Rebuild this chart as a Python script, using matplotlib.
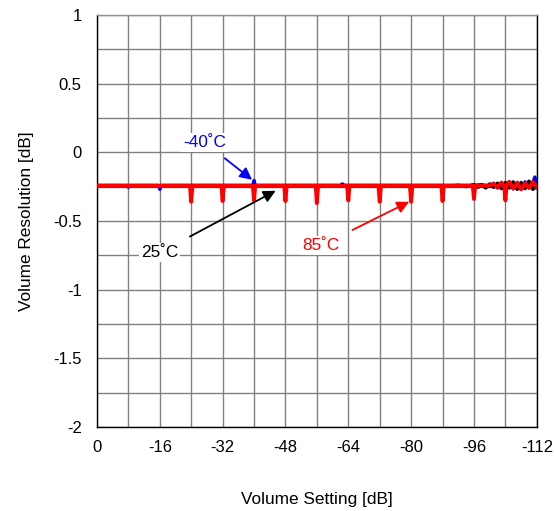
import matplotlib
matplotlib.use("Agg")
import matplotlib.pyplot as plt
import numpy as np

plt.rcParams['font.family'] = ['Liberation Sans', 'DejaVu Sans']

# ---- data ----
# baseline segments plus glitch points; noisy tail at high attenuation
red_x = [0, -23.7, -24, -24.3, -31.7, -32, -32.3, -39.7, -40, -40.3, -47.7, -48, -48.3,
         -55.7, -56, -56.3, -63.7, -64, -64.3, -71.7, -72, -72.3, -79.7, -80, -80.3,
         -87.7, -88, -88.3, -95.7, -96, -96.3, -100, -101, -102, -103, -103.7, -104,
         -104.3, -105, -106, -107, -108, -109, -110, -111, -112]
red_y = [-0.245, -0.245, -0.36, -0.245, -0.245, -0.355, -0.245, -0.245, -0.35, -0.245,
         -0.245, -0.355, -0.245, -0.245, -0.37, -0.245, -0.245, -0.35, -0.245, -0.245,
         -0.36, -0.245, -0.245, -0.36, -0.245, -0.245, -0.355, -0.245, -0.245, -0.34,
         -0.245, -0.24, -0.23, -0.255, -0.22, -0.25, -0.35, -0.24, -0.215, -0.265,
         -0.22, -0.27, -0.225, -0.26, -0.215, -0.255]

blue_x = [0, -7.7, -8, -8.3, -15.7, -16, -16.3, -39.7, -40, -40.3, -62, -62.5, -63,
          -96, -98, -100, -101, -102, -103, -104, -105, -106, -107, -108, -109,
          -110, -111, -111.5, -112]
blue_y = [-0.24, -0.24, -0.255, -0.24, -0.24, -0.27, -0.24, -0.24, -0.205, -0.24,
          -0.24, -0.23, -0.24, -0.24, -0.235, -0.25, -0.225, -0.26, -0.23, -0.255,
          -0.215, -0.265, -0.225, -0.27, -0.215, -0.26, -0.22, -0.18, -0.26]

black_x = [0, -90, -92, -94, -96, -97, -98, -99, -100, -101, -102, -103, -104, -105,
           -106, -107, -108, -109, -110, -111, -112]
black_y = [-0.245, -0.245, -0.24, -0.25, -0.235, -0.255, -0.24, -0.26, -0.23, -0.255,
           -0.225, -0.265, -0.22, -0.26, -0.215, -0.27, -0.22, -0.265, -0.21, -0.27,
           -0.23]

x_ticks = [0, -16, -32, -48, -64, -80, -96, -112]
y_ticks = [-2, -1.5, -1, -0.5, 0, 0.5, 1]
y_ticklabels = ['-2', '-1.5', '-1', '-0.5', '0', '0.5', '1']

# ---- figure ----
fig = plt.figure(figsize=(5.54, 5.11), dpi=100)
ax = fig.add_axes([0.175, 0.164, 0.794, 0.807])

ax.plot(black_x, black_y, color='black', lw=2.4, zorder=3)
ax.plot(blue_x, blue_y, color='#0000ff', lw=2.4, zorder=4)
ax.plot(red_x, red_y, color='#ff0000', lw=2.8, zorder=5)

ax.set_xlim(0, -112)
ax.set_ylim(-2, 1)
ax.set_xticks(x_ticks)
ax.set_xticklabels([str(v) for v in x_ticks])
ax.set_yticks(y_ticks)
ax.set_yticklabels(y_ticklabels)
ax.set_xticks(np.arange(0, -113, -8), minor=True)
ax.set_yticks(np.arange(-2, 1.01, 0.25), minor=True)
ax.grid(True, which='both', color='#808080', lw=1.0, zorder=1)
ax.tick_params(axis='x', which='both', length=0, labelsize=12, pad=9)
ax.tick_params(axis='y', which='both', length=0, labelsize=12, pad=11)
for s in ax.spines.values():
    s.set_color('black')
    s.set_linewidth(1.0)
ax.spines['top'].set_color('#909090')

ax.set_xlabel('Volume Setting [dB]', fontsize=12.4, labelpad=27)
ax.set_ylabel('Volume Resolution [dB]', fontsize=12.4, labelpad=14)

box = dict(facecolor='white', edgecolor='none', pad=1.5)
arrow_kw = dict(arrowstyle='-|>', lw=1.3, mutation_scale=18)
ax.annotate('-40˚C', xy=(-39.5, -0.2), xytext=(-27.5, 0.07), color='#0000ff',
            fontsize=12.4, ha='center', va='center', bbox=box,
            arrowprops=dict(color='#0000ff', shrinkA=7, shrinkB=0, **arrow_kw), zorder=6)
ax.annotate('25˚C', xy=(-45.5, -0.28), xytext=(-16, -0.73), color='black',
            fontsize=12.4, ha='center', va='center', bbox=box,
            arrowprops=dict(color='black', shrinkA=10, shrinkB=0, **arrow_kw), zorder=6)
ax.annotate('85˚C', xy=(-79.5, -0.36), xytext=(-57, -0.68), color='#ff0000',
            fontsize=12.4, ha='center', va='center', bbox=box,
            arrowprops=dict(color='#ff0000', shrinkA=10, shrinkB=0, **arrow_kw), zorder=6)

fig.savefig('out.png', dpi=100)
